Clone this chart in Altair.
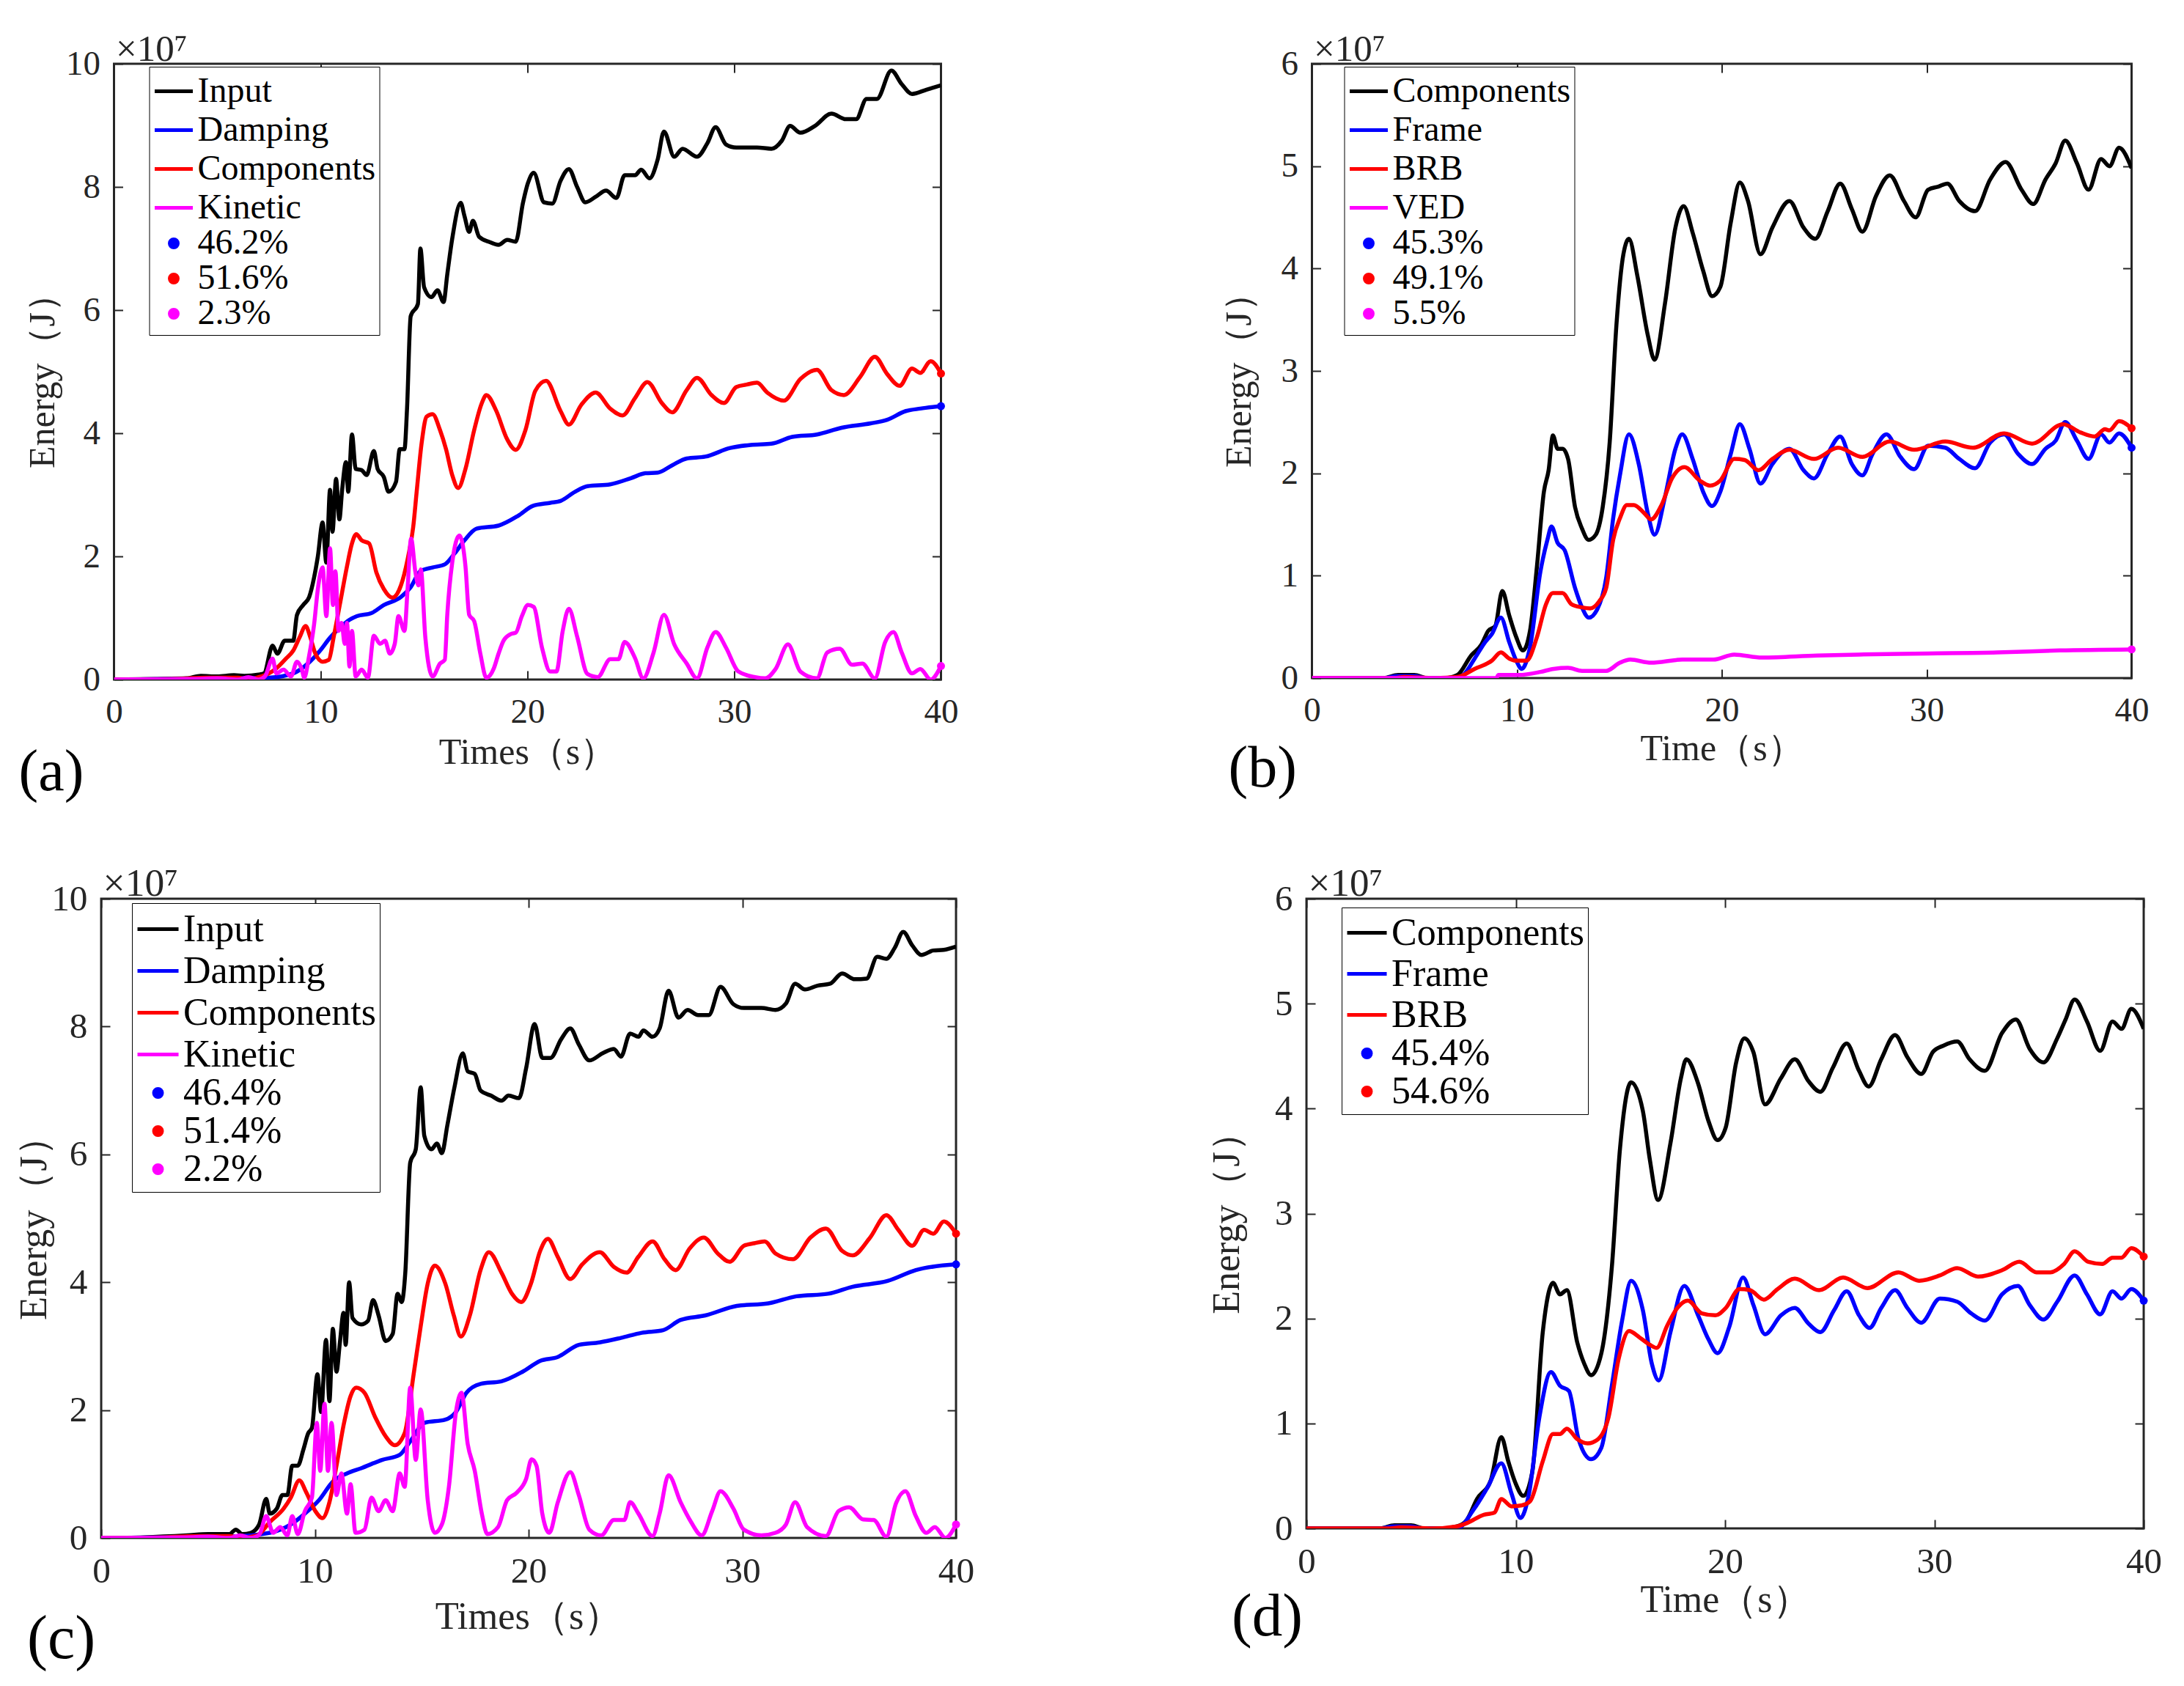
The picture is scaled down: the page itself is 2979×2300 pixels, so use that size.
import altair as alt
import pandas as pd

FONT = "Liberation Serif"
AX = "#262626"
TICK = 12
BLACK, BLUE, RED, MAGENTA = "#000000", "#0000ff", "#ff0000", "#ff00ff"

# ---------------- panel (a) : time (s), energy (x1e7 J) ----------------
a_input = [(0,0),(2,0.01),(3.5,0.02),(4.2,0.06),(5,0.05),(5.8,0.07),(6.3,0.06),(7.0,0.08),(7.26,0.1),(7.67,0.55),(7.9,0.42),(8.26,0.63),(8.67,0.63),(8.85,1.05),(9.15,1.21),(9.44,1.34),(9.68,1.66),(9.86,2.0),(10.09,2.55),(10.27,1.9),(10.45,3.08),(10.57,2.4),(10.74,3.26),(10.9,2.6),(11.04,3.1),(11.22,3.53),(11.33,3.05),(11.51,3.98),(11.69,3.42),(11.98,3.4),(12.22,3.32),(12.57,3.71),(12.75,3.42),(13.05,3.29),(13.28,3.05),(13.64,3.21),(13.82,3.74),(14.05,3.74),(14.17,4.37),(14.35,5.9),(14.7,6.1),(14.82,7.0),(15.0,6.37),(15.35,6.21),(15.65,6.32),(15.94,6.13),(16.12,6.58),(16.36,7.16),(16.77,7.74),(16.95,7.53),(17.18,7.27),(17.36,7.45),(17.66,7.19),(18.13,7.11),(18.6,7.06),(19.02,7.14),(19.43,7.11),(19.78,7.74),(20.02,8.06),(20.3,8.23),(20.8,7.75),(21.2,7.73),(21.6,8.1),(22.0,8.29),(22.4,8.0),(22.8,7.75),(23.3,7.84),(23.8,7.94),(24.3,7.82),(24.7,8.19),(25.2,8.19),(25.5,8.28),(25.9,8.14),(26.3,8.45),(26.6,8.9),(27.1,8.49),(27.5,8.62),(28.2,8.49),(28.7,8.71),(29.1,8.97),(29.6,8.69),(30.1,8.64),(31.1,8.64),(31.8,8.62),(32.3,8.75),(32.7,8.99),(33.2,8.88),(33.9,8.99),(34.7,9.19),(35.4,9.1),(35.9,9.1),(36.4,9.43),(36.9,9.43),(37.6,9.89),(38.1,9.67),(38.6,9.51),(39.3,9.58),(40.0,9.65)]
a_damping = [(0,0),(4,0.01),(6,0.02),(7.49,0.03),(8.67,0.1),(9.38,0.26),(9.97,0.47),(10.45,0.68),(10.92,0.84),(11.39,0.97),(11.75,1.03),(12.46,1.08),(13.05,1.21),(13.88,1.34),(14.35,1.5),(14.82,1.76),(15.41,1.82),(16.0,1.87),(16.48,2.05),(16.95,2.26),(17.54,2.45),(18.6,2.5),(19.55,2.66),(20.26,2.82),(21.1,2.87),(21.6,2.9),(22.3,3.05),(22.9,3.14),(24.0,3.17),(25.0,3.27),(25.7,3.35),(26.3,3.36),(27.0,3.48),(27.7,3.59),(28.6,3.62),(29.8,3.76),(30.8,3.81),(31.8,3.83),(32.8,3.94),(34.0,3.98),(35.2,4.09),(36.6,4.16),(37.4,4.22),(38.3,4.36),(39.0,4.4),(40.0,4.44)]
a_components = [(0,0),(3,0.01),(4.5,0.03),(6,0.03),(6.5,0.0),(7.0,0.04),(7.49,0.1),(7.85,0.18),(8.32,0.34),(8.67,0.47),(8.97,0.68),(9.27,0.87),(9.5,0.68),(9.74,0.42),(10.09,0.29),(10.39,0.32),(10.62,0.68),(10.92,1.21),(11.27,1.84),(11.51,2.21),(11.72,2.36),(11.98,2.26),(12.34,2.21),(12.69,1.74),(13.05,1.47),(13.46,1.33),(13.88,1.53),(14.23,2.0),(14.47,2.47),(14.64,3.05),(14.88,3.84),(15.12,4.27),(15.41,4.31),(15.77,4.05),(16.06,3.74),(16.36,3.32),(16.65,3.11),(17.0,3.42),(17.42,4.05),(17.78,4.48),(18.01,4.62),(18.48,4.37),(19.02,3.9),(19.43,3.73),(19.9,4.05),(20.38,4.69),(20.9,4.85),(21.6,4.36),(22.0,4.14),(22.6,4.46),(23.3,4.66),(24.0,4.4),(24.6,4.29),(25.2,4.57),(25.8,4.83),(26.5,4.49),(27.0,4.34),(27.7,4.7),(28.2,4.9),(28.9,4.62),(29.5,4.49),(30.1,4.75),(30.6,4.79),(31.1,4.82),(31.6,4.66),(32.4,4.53),(33.2,4.88),(34.0,5.03),(34.7,4.7),(35.3,4.62),(36.1,4.92),(36.8,5.24),(37.4,4.96),(38.0,4.77),(38.6,5.05),(39.0,4.98),(39.5,5.17),(40.0,4.97)]
a_kinetic = [(0,0),(4,0.01),(5,0.02),(6,0.0),(6.5,0.04),(7.0,0.0),(7.3,0.05),(7.67,0.34),(7.85,0.1),(8.2,0.16),(8.56,0.05),(8.85,0.29),(9.09,0.16),(9.2,0.03),(9.44,0.39),(9.68,0.9),(9.86,1.47),(10.09,1.82),(10.27,1.03),(10.45,2.13),(10.59,1.21),(10.71,1.76),(10.86,0.79),(11.01,0.92),(11.16,0.58),(11.27,0.92),(11.39,0.21),(11.51,0.79),(11.69,0.05),(11.98,0.16),(12.28,0.03),(12.57,0.71),(12.87,0.58),(13.11,0.63),(13.34,0.42),(13.58,0.58),(13.76,1.03),(14.05,0.79),(14.2,1.47),(14.37,2.29),(14.58,1.74),(14.73,1.53),(14.84,1.79),(15.06,0.68),(15.41,0.05),(15.77,0.26),(16.0,0.32),(16.12,1.05),(16.36,1.9),(16.71,2.34),(17.0,1.84),(17.18,1.05),(17.42,0.95),(17.72,0.42),(18.01,0.03),(18.37,0.18),(18.6,0.42),(18.84,0.63),(19.2,0.74),(19.43,0.76),(19.73,1.03),(20.02,1.21),(20.3,1.18),(20.7,0.52),(21.1,0.13),(21.4,0.13),(21.7,0.78),(22.0,1.15),(22.4,0.7),(22.9,0.09),(23.4,0.04),(24.0,0.33),(24.4,0.33),(24.7,0.61),(25.2,0.35),(25.6,0.02),(26.1,0.44),(26.6,1.05),(27.1,0.57),(27.7,0.26),(28.2,0.02),(28.7,0.52),(29.1,0.77),(29.6,0.52),(30.2,0.13),(31.0,0.04),(31.5,0.02),(32.0,0.17),(32.6,0.57),(33.2,0.13),(34.0,0.02),(34.5,0.44),(35.1,0.5),(35.7,0.24),(36.2,0.26),(36.8,0.02),(37.3,0.61),(37.7,0.77),(38.1,0.44),(38.6,0.1),(39.0,0.17),(39.5,0.0),(40.0,0.22)]
a_shares = ["46.2%", "51.6%", "2.3%"]
a_ends = [4.44, 4.97, 0.22]

# ---------------- panel (b) ----------------
b_components = [(0,0),(3.5,0.0),(4.2,0.03),(5.0,0.03),(5.6,0.0),(6.5,0.0),(7.1,0.03),(7.77,0.22),(8.28,0.33),(8.6,0.46),(8.95,0.51),(9.29,0.85),(9.63,0.61),(9.97,0.4),(10.3,0.27),(10.64,0.46),(10.98,1.09),(11.32,1.82),(11.55,2.03),(11.76,2.37),(11.99,2.24),(12.23,2.24),(12.5,2.14),(12.84,1.67),(13.18,1.46),(13.5,1.35),(13.85,1.4),(14.19,1.67),(14.53,2.3),(14.86,3.45),(15.2,4.14),(15.47,4.29),(15.88,3.93),(16.39,3.35),(16.72,3.11),(17.23,3.66),(17.74,4.4),(18.14,4.61),(18.58,4.35),(19.09,3.98),(19.53,3.73),(19.93,3.82),(20.44,4.45),(20.88,4.84),(21.28,4.66),(21.89,4.14),(22.47,4.4),(23.3,4.66),(23.99,4.4),(24.56,4.29),(25.17,4.56),(25.78,4.83),(26.35,4.58),(26.86,4.36),(27.53,4.71),(28.2,4.91),(28.89,4.66),(29.46,4.5),(30.07,4.77),(30.57,4.8),(31.01,4.83),(31.59,4.66),(32.36,4.56),(33.1,4.87),(33.85,5.04),(34.63,4.77),(35.2,4.63),(35.8,4.87),(36.3,5.03),(36.76,5.25),(37.33,5.03),(37.9,4.77),(38.51,5.07),(38.92,5.0),(39.39,5.18),(40.0,4.98)]
b_frame = [(0,0),(3.5,0.0),(4.2,0.02),(5.0,0.02),(5.6,0.0),(7.0,0.0),(7.43,0.04),(7.94,0.19),(8.45,0.35),(8.78,0.43),(9.22,0.59),(9.63,0.35),(9.97,0.17),(10.24,0.09),(10.64,0.3),(11.15,1.04),(11.49,1.35),(11.69,1.48),(11.99,1.32),(12.33,1.25),(12.84,0.88),(13.18,0.69),(13.51,0.59),(13.92,0.67),(14.36,0.98),(14.7,1.56),(15.03,1.98),(15.47,2.38),(15.95,2.09),(16.39,1.61),(16.72,1.4),(17.23,1.77),(17.74,2.24),(18.07,2.38),(18.58,2.14),(19.09,1.82),(19.53,1.68),(19.93,1.82),(20.44,2.19),(20.88,2.48),(21.35,2.24),(21.89,1.9),(22.47,2.09),(23.3,2.24),(23.99,2.03),(24.5,1.95),(25.17,2.19),(25.78,2.36),(26.35,2.09),(26.86,1.98),(27.36,2.19),(28.04,2.38),(28.72,2.16),(29.39,2.04),(30.07,2.27),(30.91,2.25),(31.59,2.14),(32.36,2.05),(33.1,2.3),(33.78,2.38),(34.46,2.19),(35.14,2.09),(35.8,2.24),(36.3,2.32),(36.76,2.5),(37.33,2.32),(37.9,2.14),(38.51,2.38),(38.92,2.3),(39.39,2.39),(40.0,2.25)]
b_brb = [(0,0),(4.0,0.0),(4.5,0.01),(6.0,0.0),(7.1,0.01),(7.94,0.09),(8.78,0.17),(9.22,0.25),(9.63,0.19),(9.97,0.17),(10.47,0.17),(10.98,0.4),(11.42,0.72),(11.76,0.83),(12.23,0.83),(12.67,0.72),(13.18,0.69),(13.58,0.68),(14.02,0.75),(14.36,0.88),(14.7,1.35),(15.03,1.56),(15.37,1.69),(15.71,1.69),(16.22,1.61),(16.55,1.55),(17.06,1.69),(17.57,1.95),(18.18,2.06),(18.92,1.93),(19.43,1.88),(19.93,1.93),(20.61,2.14),(21.11,2.13),(21.79,2.03),(22.47,2.14),(23.3,2.23),(24.5,2.14),(25.68,2.25),(26.86,2.16),(28.2,2.31),(29.39,2.23),(30.91,2.31),(32.26,2.25),(33.78,2.39),(35.14,2.29),(36.66,2.48),(37.5,2.4),(38.2,2.36),(38.7,2.43),(38.92,2.42),(39.39,2.51),(40.0,2.44)]
b_ved = [(0,0),(9.0,0.0),(9.1,0.03),(10.1,0.03),(11.15,0.06),(11.8,0.09),(12.5,0.1),(13.18,0.07),(14.36,0.07),(15.03,0.15),(15.54,0.18),(16.55,0.15),(18.07,0.18),(19.59,0.18),(20.61,0.23),(21.96,0.2),(24.66,0.22),(26.69,0.23),(30.07,0.24),(33.45,0.25),(36.49,0.27),(40.0,0.28)]
b_shares = ["45.3%", "49.1%", "5.5%"]
b_ends = [2.25, 2.44, 0.28]

# ---------------- panel (c) ----------------
c_input = [(0,0),(2,0.01),(4.0,0.04),(5.0,0.06),(6.0,0.06),(6.3,0.13),(6.6,0.06),(7.0,0.08),(7.39,0.21),(7.72,0.61),(7.89,0.38),(8.22,0.46),(8.48,0.67),(8.71,0.67),(8.94,1.13),(9.2,1.13),(9.46,1.38),(9.69,1.64),(9.86,1.72),(10.12,2.56),(10.29,1.97),(10.52,3.1),(10.68,2.14),(10.84,3.27),(11.01,2.6),(11.17,3.06),(11.34,3.52),(11.44,3.02),(11.6,4.0),(11.76,3.44),(12.16,3.34),(12.49,3.4),(12.72,3.72),(12.98,3.48),(13.31,3.08),(13.64,3.19),(13.87,3.82),(14.06,3.69),(14.23,4.15),(14.46,5.87),(14.72,6.08),(14.95,7.05),(15.12,6.29),(15.45,6.08),(15.71,6.17),(15.94,6.02),(16.2,6.46),(16.53,7.05),(16.92,7.58),(17.15,7.3),(17.48,7.26),(17.75,7.0),(18.24,6.92),(18.73,6.84),(19.06,6.92),(19.55,6.88),(19.88,7.34),(20.28,8.04),(20.64,7.51),(21.03,7.51),(21.52,7.8),(21.95,7.97),(22.35,7.72),(22.84,7.47),(23.5,7.59),(23.99,7.65),(24.32,7.53),(24.75,7.89),(25.14,7.84),(25.37,7.94),(25.8,7.84),(26.13,7.97),(26.55,8.56),(27.01,8.14),(27.44,8.26),(27.93,8.18),(28.43,8.18),(28.98,8.62),(29.58,8.35),(30.07,8.29),(30.89,8.29),(31.55,8.26),(32.04,8.36),(32.47,8.67),(32.93,8.58),(33.52,8.64),(34.11,8.67),(34.67,8.83),(35.26,8.74),(35.82,8.75),(36.31,9.09),(36.74,9.06),(37.13,9.23),(37.53,9.48),(37.95,9.27),(38.38,9.12),(38.94,9.19),(39.43,9.2),(40.0,9.25)]
c_damping = [(0,0),(4,0.01),(6,0.02),(7.89,0.08),(8.87,0.21),(9.53,0.38),(10.19,0.59),(10.84,0.88),(11.5,1.01),(12.16,1.09),(13.14,1.22),(13.97,1.3),(14.46,1.51),(15.12,1.8),(16.1,1.85),(16.6,1.97),(17.09,2.27),(17.75,2.41),(18.73,2.45),(19.72,2.6),(20.54,2.77),(21.36,2.83),(22.35,3.02),(23.33,3.06),(24.32,3.13),(25.3,3.21),(26.29,3.25),(27.11,3.41),(28.26,3.48),(29.74,3.63),(31.22,3.67),(32.53,3.78),(34.01,3.82),(35.16,3.93),(36.8,4.02),(38.12,4.19),(40.0,4.28)]
c_components = [(0,0),(3,0.01),(4.5,0.03),(6,0.03),(6.5,0.0),(7.3,0.04),(7.89,0.25),(8.54,0.46),(8.87,0.63),(9.27,0.9),(9.6,0.71),(10.02,0.42),(10.35,0.31),(10.68,0.56),(11.01,1.13),(11.34,1.76),(11.67,2.22),(11.93,2.35),(12.32,2.27),(12.82,1.89),(13.31,1.59),(13.74,1.45),(14.2,1.64),(14.62,2.56),(14.95,3.31),(15.28,3.98),(15.61,4.26),(16.1,3.98),(16.5,3.48),(16.83,3.15),(17.25,3.48),(17.75,4.19),(18.14,4.47),(18.73,4.15),(19.22,3.82),(19.65,3.69),(20.11,3.98),(20.54,4.49),(20.9,4.68),(21.36,4.4),(21.95,4.05),(22.51,4.28),(23.33,4.47),(23.99,4.24),(24.58,4.15),(25.14,4.4),(25.8,4.64),(26.36,4.36),(26.88,4.19),(27.54,4.53),(28.2,4.7),(28.85,4.45),(29.41,4.32),(30.07,4.57),(30.56,4.61),(31.05,4.64),(31.55,4.45),(32.37,4.36),(33.19,4.7),(33.91,4.84),(34.67,4.49),(35.16,4.42),(35.98,4.7),(36.74,5.05),(37.3,4.82),(37.95,4.57),(38.51,4.82),(38.94,4.76),(39.43,4.95),(40.0,4.76)]
c_kinetic = [(0,0),(4,0.01),(5,0.02),(6,0.0),(6.5,0.04),(7.0,0.0),(7.4,0.05),(7.72,0.34),(8.05,0.08),(8.38,0.17),(8.71,0.04),(8.94,0.34),(9.2,0.06),(9.53,0.42),(9.86,0.63),(10.09,1.8),(10.25,1.05),(10.45,2.1),(10.61,1.05),(10.78,1.8),(11.01,0.67),(11.24,1.01),(11.5,0.38),(11.67,0.84),(11.9,0.08),(12.32,0.13),(12.65,0.63),(12.98,0.42),(13.31,0.59),(13.64,0.42),(13.97,1.01),(14.2,0.8),(14.46,2.35),(14.72,1.22),(14.95,2.01),(15.28,0.59),(15.61,0.08),(15.94,0.21),(16.27,0.8),(16.6,1.97),(16.86,2.27),(17.15,1.47),(17.48,1.05),(17.81,0.38),(18.07,0.06),(18.57,0.17),(18.99,0.59),(19.45,0.71),(19.88,0.92),(20.14,1.23),(20.37,1.13),(20.64,0.38),(20.97,0.08),(21.36,0.55),(21.95,1.03),(22.35,0.67),(22.84,0.13),(23.4,0.04),(23.99,0.28),(24.48,0.28),(24.75,0.56),(25.14,0.38),(25.8,0.03),(26.13,0.38),(26.55,0.98),(27.11,0.56),(27.6,0.25),(28.1,0.04),(28.59,0.42),(28.98,0.73),(29.58,0.46),(30.07,0.13),(30.89,0.04),(31.55,0.08),(32.04,0.21),(32.47,0.56),(33.03,0.17),(33.91,0.03),(34.5,0.42),(35.0,0.48),(35.65,0.29),(36.15,0.28),(36.74,0.02),(37.2,0.55),(37.63,0.73),(38.12,0.34),(38.61,0.08),(39.01,0.17),(39.5,0.0),(40.0,0.21)]
c_shares = ["46.4%", "51.4%", "2.2%"]
c_ends = [4.28, 4.76, 0.21]

# ---------------- panel (d) ----------------
d_components = [(0,0),(3.5,0.0),(4.2,0.03),(5.0,0.03),(5.6,0.0),(6.5,0.0),(7.2,0.02),(7.66,0.08),(8.15,0.28),(8.81,0.46),(9.31,0.87),(9.64,0.64),(9.97,0.44),(10.36,0.31),(10.79,0.54),(11.29,1.87),(11.78,2.34),(12.11,2.23),(12.44,2.27),(12.94,1.77),(13.27,1.57),(13.6,1.46),(14.09,1.67),(14.59,2.49),(14.98,3.62),(15.51,4.25),(16.07,3.98),(16.4,3.52),(16.8,3.13),(17.39,3.67),(17.89,4.29),(18.15,4.47),(18.71,4.24),(19.21,3.88),(19.64,3.7),(20.03,3.82),(20.53,4.44),(20.92,4.67),(21.35,4.54),(21.91,4.04),(22.67,4.29),(23.33,4.47),(23.99,4.26),(24.55,4.16),(25.15,4.39),(25.81,4.62),(26.4,4.36),(26.86,4.21),(27.46,4.47),(28.12,4.7),(28.71,4.49),(29.37,4.33),(29.93,4.54),(30.43,4.6),(31.09,4.64),(31.68,4.47),(32.41,4.36),(33.23,4.72),(33.89,4.85),(34.55,4.57),(35.21,4.44),(35.87,4.67),(36.27,4.85),(36.7,5.04),(37.29,4.83),(37.92,4.55),(38.51,4.83),(38.94,4.76),(39.41,4.95),(40.0,4.76)]
d_frame = [(0,0),(3.5,0.0),(4.2,0.02),(5.0,0.02),(5.6,0.0),(7.2,0.0),(7.99,0.18),(8.65,0.39),(9.31,0.62),(9.8,0.33),(10.23,0.1),(10.63,0.33),(11.12,1.05),(11.68,1.49),(12.11,1.36),(12.54,1.31),(13.0,0.85),(13.6,0.66),(14.09,0.77),(14.59,1.36),(15.08,1.98),(15.51,2.36),(16.07,2.08),(16.5,1.57),(16.83,1.41),(17.39,1.87),(18.05,2.31),(18.71,2.03),(19.21,1.8),(19.64,1.67),(20.2,1.92),(20.86,2.39),(21.35,2.13),(21.91,1.85),(22.67,2.03),(23.33,2.1),(23.99,1.95),(24.55,1.87),(25.21,2.08),(25.81,2.26),(26.4,2.03),(26.9,1.91),(27.46,2.1),(28.12,2.27),(28.71,2.1),(29.37,1.96),(30.26,2.19),(31.09,2.16),(31.75,2.05),(32.41,1.98),(33.23,2.23),(33.99,2.31),(34.55,2.13),(35.21,1.99),(35.87,2.16),(36.7,2.41),(37.29,2.23),(37.92,2.04),(38.51,2.26),(38.94,2.19),(39.41,2.28),(40.0,2.17)]
d_brb = [(0,0),(4.0,0.0),(4.5,0.01),(6.0,0.0),(7.2,0.02),(7.66,0.05),(8.48,0.13),(8.98,0.15),(9.31,0.28),(9.8,0.21),(10.3,0.22),(10.69,0.26),(11.29,0.64),(11.78,0.9),(12.11,0.9),(12.44,0.95),(12.94,0.85),(13.43,0.81),(13.93,0.85),(14.42,1.05),(14.92,1.62),(15.41,1.88),(15.91,1.82),(16.4,1.75),(16.73,1.72),(17.23,1.93),(17.72,2.1),(18.22,2.17),(18.88,2.05),(19.54,2.03),(20.03,2.1),(20.69,2.28),(21.19,2.27),(21.85,2.18),(22.51,2.28),(23.33,2.38),(24.49,2.27),(25.64,2.39),(26.8,2.29),(28.28,2.44),(29.27,2.36),(30.26,2.41),(31.09,2.48),(32.08,2.4),(33.23,2.46),(34.06,2.54),(34.88,2.44),(35.54,2.44),(36.2,2.52),(36.7,2.64),(37.36,2.54),(38.02,2.52),(38.51,2.58),(38.94,2.58),(39.41,2.67),(40.0,2.59)]
d_shares = ["45.4%", "54.6%"]
d_ends = [2.17, 2.59]

x_ticks = [0, 10, 20, 30, 40]


def panel(lines, dots, ymax, xtitle, tag, w, h, k, leg, ypad, xpad, tagdx, tagoff):
    names = [n for n, c, p in lines] + [d for d, c, v in dots]
    colors = [c for n, c, p in lines] + [c for d, c, v in dots]
    shapes = ["stroke"] * len(lines) + ["circle"] * len(dots)
    sizes = [leg["line"] ** 2] * len(lines) + [120] * len(dots)
    yticks = list(range(0, ymax + 1, 2 if ymax > 6 else 1))

    legend = alt.Legend(title=None, orient="none", legendX=leg["x"], legendY=leg["y"],
                        direction="vertical", strokeColor="black", fillColor="white",
                        padding=5, cornerRadius=0, labelFont=FONT, labelFontSize=leg["fs"],
                        labelColor="black", labelOffset=4, labelLimit=600,
                        rowPadding=0, symbolStrokeWidth=5)
    color = alt.Color("name:N", scale=alt.Scale(domain=names, range=colors), legend=legend)
    shape = alt.Shape("name:N", scale=alt.Scale(domain=names, range=shapes), legend=legend)
    size = alt.Size("name:N", scale=alt.Scale(type="ordinal", domain=names, range=sizes),
                    legend=legend)

    xs = alt.Scale(domain=[0, 40], nice=False)
    ys = alt.Scale(domain=[0, ymax], nice=False)
    tick = dict(grid=False, domain=False, tickSize=TICK, tickWidth=2, tickColor=AX, offset=-TICK)
    xb = alt.Axis(values=x_ticks, format="d", title=xtitle, labelFont=FONT,
                  labelFontSize=47 * k, labelColor=AX, labelPadding=21, labelFlush=False,
                  minExtent=70, maxExtent=70, titleFont=FONT, titleFontSize=50 * k,
                  titleFontWeight="normal", titleColor=AX, titlePadding=xpad, **tick)
    yl = alt.Axis(values=yticks, format="d", title="Energy（J）", labelFont=FONT,
                  labelFontSize=47 * k, labelColor=AX, labelPadding=19,
                  minExtent=60, maxExtent=60, titleFont=FONT, titleFontSize=50 * k,
                  titleFontWeight="normal", titleColor=AX, titlePadding=ypad, **tick)
    xt = alt.Axis(orient="top", values=x_ticks, labels=False, title="×10⁷",
                  titleAnchor="start", titleAlign="left", titleBaseline="alphabetic",
                  titleX=2, titlePadding=5, titleFont=FONT, titleFontSize=51 * k,
                  titleFontWeight="normal", titleColor=AX, minExtent=TICK, maxExtent=TICK, **tick)
    yr = alt.Axis(orient="right", values=yticks, labels=False, title=None,
                  minExtent=TICK, maxExtent=TICK, **tick)

    layers = []
    for i, (n, c, pairs) in enumerate(lines):
        df = pd.DataFrame(pairs, columns=["t", "v"])
        df["name"] = n
        layers.append(
            alt.Chart(df).mark_line(strokeWidth=5.5, strokeJoin="round", interpolate="monotone",
                                    clip=True).encode(
                x=alt.X("t:Q", scale=xs, axis=xb if i == 0 else None),
                y=alt.Y("v:Q", scale=ys, axis=yl if i == 0 else None),
                color=color,
                order="t:Q",
            )
        )
    dd = pd.DataFrame({"t": [40] * len(dots), "v": [v for d, c, v in dots],
                       "name": [d for d, c, v in dots]})
    pts = alt.Chart(dd).mark_point(filled=True, opacity=1).encode(
        x=alt.X("t:Q", scale=xs, axis=xt),
        y=alt.Y("v:Q", scale=ys, axis=yr),
        color=color, shape=shape, size=size,
    )
    return alt.layer(*layers, pts).resolve_axis(x="independent", y="independent").properties(
        width=w, height=h,
        title=alt.TitleParams(tag, orient="bottom", anchor="start", frame="group", font=FONT,
                              fontSize=80 * k, fontWeight="normal", color="black",
                              dx=tagdx, offset=tagoff),
    )


pa = panel([("Input", BLACK, a_input), ("Damping", BLUE, a_damping),
            ("Components", RED, a_components), ("Kinetic", MAGENTA, a_kinetic)],
           list(zip(a_shares, [BLUE, RED, MAGENTA], a_ends)), 10, "Times（s）", "(a)",
           1128, 840, 1.0, dict(x=48, y=4, fs=48, line=52), 24, 16, -130, -36)
pb = panel([("Components", BLACK, b_components), ("Frame", BLUE, b_frame),
            ("BRB", RED, b_brb), ("VED", MAGENTA, b_ved)],
           list(zip(b_shares, [BLUE, RED, MAGENTA], b_ends)), 6, "Time（s）", "(b)",
           1118, 838, 1.0, dict(x=44, y=4, fs=48, line=52), 26, 13, -114, -36)
pc = panel([("Input", BLACK, c_input), ("Damping", BLUE, c_damping),
            ("Components", RED, c_components), ("Kinetic", MAGENTA, c_kinetic)],
           list(zip(c_shares, [BLUE, RED, MAGENTA], c_ends)), 10, "Times（s）", "(c)",
           1166, 872, 1.05, dict(x=42, y=6, fs=52, line=56), 17, 24, -101, -36)
pd_ = panel([("Components", BLACK, d_components), ("Frame", BLUE, d_frame),
             ("BRB", RED, d_brb)],
            list(zip(d_shares, [BLUE, RED], d_ends)), 6, "Time（s）", "(d)",
            1142, 859, 1.04, dict(x=48, y=12, fs=52, line=54), 34, 14, -102, -43)

indep = dict(color="independent", shape="independent", size="independent")
row1 = alt.hconcat(pa, pb, spacing=506, bounds="flush").resolve_scale(**indep).resolve_legend(**indep)
row2 = alt.hconcat(pc, pd_, spacing=478, bounds="flush").resolve_scale(**indep).resolve_legend(**indep)

chart = alt.vconcat(row1, row2, spacing=80, center=True).resolve_scale(
    **indep).resolve_legend(**indep).properties(
    background="white",
    padding={"left": 10, "top": 31, "right": 5, "bottom": 5},
).configure_view(stroke=AX, strokeWidth=3)

chart.save("out.html", embed_options={"renderer": "svg", "actions": False})
